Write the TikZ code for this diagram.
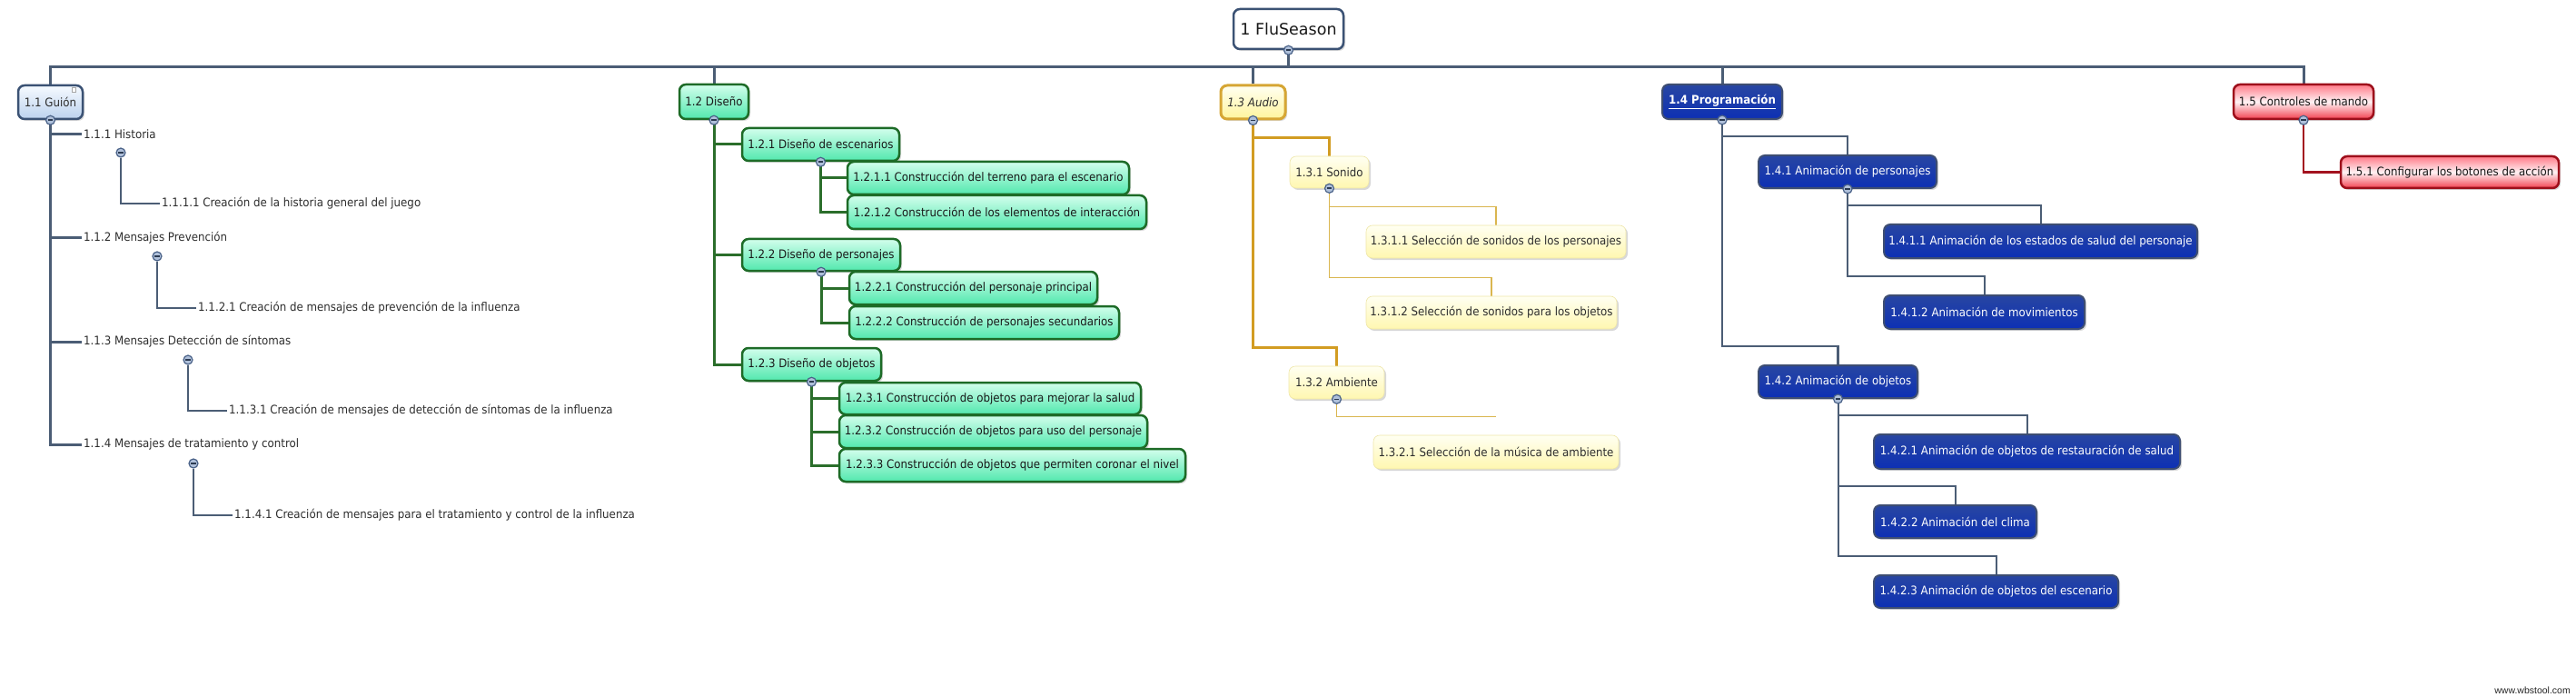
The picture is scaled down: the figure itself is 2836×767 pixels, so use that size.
\documentclass[tikz,border=0pt]{standalone}
\usepackage{fontspec}
\setmainfont{DejaVu Sans}
\newfontfamily\fRoot{DejaVu Sans}
\newfontfamily\fT[FakeStretch=0.91]{DejaVu Sans}
\newfontfamily\fWm{Liberation Sans}
\usetikzlibrary{shadows,calc}
\pgfdeclarelayer{back}
\pgfdeclarelayer{bg}
\pgfsetlayers{back,bg,main}
\definecolor{slateC}{HTML}{4B5D75}
\definecolor{boxSlate}{HTML}{3B5274}
\definecolor{greenL}{HTML}{2B6E2B}
\definecolor{greenB}{HTML}{1D6B27}
\definecolor{greenTop}{HTML}{D2FEEC}
\definecolor{greenBot}{HTML}{52E8AE}
\definecolor{goldL}{HTML}{D29C22}
\definecolor{goldS}{HTML}{DAB650}
\definecolor{goldB}{HTML}{D6A634}
\definecolor{yelTop}{HTML}{FFFFF2}
\definecolor{yelBot}{HTML}{FFF49C}
\definecolor{yelBotB}{HTML}{FFF7B0}
\definecolor{yelEdge}{HTML}{EEE6A8}
\definecolor{blueB}{HTML}{3E4E72}
\definecolor{blueTop}{HTML}{2846A2}
\definecolor{blueBot}{HTML}{0D30B4}
\definecolor{redL}{HTML}{A3121F}
\definecolor{redB}{HTML}{9E0F1B}
\definecolor{redTop}{HTML}{FF7A88}
\definecolor{redMid}{HTML}{FFF2F4}
\definecolor{redBot}{HTML}{F2404F}
\definecolor{guTop}{HTML}{F6FAFF}
\definecolor{guBot}{HTML}{BCD2EE}
\definecolor{txt}{HTML}{2E2E2E}
\definecolor{collFill}{HTML}{AFC0DA}
\definecolor{collDraw}{HTML}{4A6288}
\tikzset{
 tfont/.style={font=\fT\fontsize{13}{16}\selectfont},
 boxbase/.style={rounded corners=7pt, inner xsep=0pt, inner ysep=0pt, align=center, tfont,
   drop shadow={shadow xshift=2pt, shadow yshift=-2pt, opacity=0.3}},
 rootbox/.style={boxbase, draw=boxSlate, line width=2.5pt, fill=white,
   font=\fRoot\fontsize{17.5}{20}\selectfont, text=black!90},
 guibox/.style={boxbase, draw=boxSlate, line width=2.5pt, top color=guTop, bottom color=guBot, text=txt},
 grbox/.style={boxbase, draw=greenB, line width=2.5pt, top color=greenTop, bottom color=greenBot, text=black!90},
 yebox/.style={boxbase, draw=goldB, line width=3pt, top color=yelTop, bottom color=yelBot, text=txt},
 yesub/.style={boxbase, draw=yelEdge, line width=0.6pt, top color=yelTop, bottom color=yelBotB, text=txt},
 blbox/.style={boxbase, draw=blueB, line width=2pt, top color=blueTop, bottom color=blueBot, text=white},
 rebox/.style={boxbase, draw=redB, line width=2.5pt, top color=redTop, bottom color=redBot, middle color=redMid, text=black!90},
 plain/.style={inner xsep=2pt, inner ysep=1pt, anchor=west, tfont, text=txt},
 coll/.style={circle, minimum size=10pt, inner sep=0pt, draw=collDraw, line width=1.2pt, fill=collFill,
   path picture={\draw[line width=1.6pt, collDraw!60!black]
     ([xshift=-2.8pt]path picture bounding box.center) -- ([xshift=2.8pt]path picture bounding box.center);}},
 lslate/.style={draw=slateC, line width=3pt},
 lslatem/.style={draw=slateC, line width=2.5pt},
 lslates/.style={draw=slateC, line width=2pt},
 lslatet/.style={draw=slateC, line width=1.5pt},
 lgreen/.style={draw=greenL, line width=3pt},
 lgold/.style={draw=goldL, line width=3pt},
 lgolds/.style={draw=goldS, line width=1.5pt},
 lred/.style={draw=redL, line width=2.5pt},
}
\newcommand\bx[7]{%
  \pgfmathsetmacro\bxw{#5-#3}\pgfmathsetmacro\bxh{#6-#4}%
  \pgfmathsetmacro\bxx{(#3+#5)/2}\pgfmathsetmacro\bxy{(#4+#6)/2}%
  \node[#2, minimum width=\bxw pt, minimum height=\bxh pt] (#1) at (\bxx,\bxy) {#7};}
\begin{document}
\begin{tikzpicture}[x=1pt,y=-1pt]
\useasboundingbox (0,0) rectangle (2836,767);
\begin{pgfonlayer}{back}
\fill[white] (0,0) rectangle (2836,767);
\end{pgfonlayer}
% root and level 1
\bx{n1}{rootbox}{1358}{10}{1479}{54}{1 FluSeason}
\bx{n11}{guibox}{20}{94}{91}{131}{1.1 Guión}
\bx{n12}{grbox}{748}{93}{824}{131}{1.2 Diseño}
\bx{n13}{yebox}{1344}{94}{1415}{131}{\itshape 1.3 Audio}
\bx{n14}{blbox}{1830}{93}{1962}{131}{\bfseries\underline{1.4 Programación}}
\bx{n15}{rebox}{2459}{93}{2613}{131}{1.5 Controles de mando}
\node[draw=gray!70, fill=white, line width=0.5pt, minimum width=4pt, minimum height=5pt, inner sep=0pt] (icon) at (81,98.5) {};
% 1.1 children
\node[plain] (n111) at (90,148) {1.1.1 Historia};
\node[plain] (n1111) at (176,224) {1.1.1.1 Creación de la historia general del juego};
\node[plain] (n112) at (90,262) {1.1.2 Mensajes Prevención};
\node[plain] (n1121) at (216,339) {1.1.2.1 Creación de mensajes de prevención de la influenza};
\node[plain] (n113) at (90,376) {1.1.3 Mensajes Detección de síntomas};
\node[plain] (n1131) at (250,452) {1.1.3.1 Creación de mensajes de detección de síntomas de la influenza};
\node[plain] (n114) at (90,489) {1.1.4 Mensajes de tratamiento y control};
\node[plain] (n1141) at (256,567) {1.1.4.1 Creación de mensajes para el tratamiento y control de la influenza};
% 1.2
\bx{n121}{grbox}{817}{141}{990}{177}{1.2.1 Diseño de escenarios}
\bx{n1211}{grbox}{933}{178}{1243}{214}{1.2.1.1 Construcción del terreno para el escenario}
\bx{n1212}{grbox}{933}{215}{1262}{252}{1.2.1.2 Construcción de los elementos de interacción}
\bx{n122}{grbox}{817}{263}{991}{298}{1.2.2 Diseño de personajes}
\bx{n1221}{grbox}{935}{299}{1208}{335}{1.2.2.1 Construcción del personaje principal}
\bx{n1222}{grbox}{935}{337}{1232}{373}{1.2.2.2 Construcción de personajes secundarios}
\bx{n123}{grbox}{817}{383}{970}{419}{1.2.3 Diseño de objetos}
\bx{n1231}{grbox}{924}{421}{1256}{456}{1.2.3.1 Construcción de objetos para mejorar la salud}
\bx{n1232}{grbox}{924}{457}{1263}{493}{1.2.3.2 Construcción de objetos para uso del personaje}
\bx{n1233}{grbox}{924}{494}{1305}{530}{1.2.3.3 Construcción de objetos que permiten coronar el nivel}
% 1.3
\bx{n131}{yesub}{1420}{172}{1507}{207}{1.3.1 Sonido}
\bx{n1311}{yesub}{1504}{248}{1790}{284}{1.3.1.1 Selección de sonidos de los personajes}
\bx{n1312}{yesub}{1504}{326}{1780}{362}{1.3.1.2 Selección de sonidos para los objetos}
\bx{n132}{yesub}{1419}{403}{1524}{439}{1.3.2 Ambiente}
\bx{n1321}{yesub}{1512}{479}{1782}{516}{1.3.2.1 Selección de la música de ambiente}
% 1.4
\bx{n141}{blbox}{1936}{171}{2132}{207}{1.4.1 Animación de personajes}
\bx{n1411}{blbox}{2074}{247}{2419}{284}{1.4.1.1 Animación de los estados de salud del personaje}
\bx{n1412}{blbox}{2074}{325}{2295}{362}{1.4.1.2 Animación de movimientos}
\bx{n142}{blbox}{1936}{402}{2111}{438}{1.4.2 Animación de objetos}
\bx{n1421}{blbox}{2063}{478}{2400}{516}{1.4.2.1 Animación de objetos de restauración de salud}
\bx{n1422}{blbox}{2063}{556}{2242}{592}{1.4.2.2 Animación del clima}
\bx{n1423}{blbox}{2063}{633}{2332}{669}{1.4.2.3 Animación de objetos del escenario}
% 1.5
\bx{n151}{rebox}{2577}{172}{2817}{207}{1.5.1 Configurar los botones de acción}
% watermark
\node[font=\fWm\fontsize{10.5}{12}\selectfont, text=black!85, anchor=east, inner sep=0pt] (wm) at (2830,760) {www.wbstool.com};
% collapse markers
\foreach \n in {n1,n11,n12,n121,n122,n123,n13,n131,n132,n14,n141,n142,n15}
  \node[coll] (c\n) at (\n.south) {};
\node[coll] (cn111) at (133,168) {};
\node[coll] (cn112) at (173,282) {};
\node[coll] (cn113) at (207,396) {};
\node[coll] (cn114) at (213,510) {};
% connectors
\begin{pgfonlayer}{bg}
\coordinate (bus) at ([yshift=19pt]n11.north);
\draw[lslate] (n11.north) -- (bus) -| (n15.north);
\draw[lslate] (n1.south) -- (n1.south |- bus);
\draw[lslate] (n12.north) -- (n12.north |- bus);
\draw[lslate] (n13.north) -- (n13.north |- bus);
\draw[lslate] (n14.north) -- (n14.north |- bus);
% 1.1
\foreach \c in {n111,n112,n113,n114}
  \draw[lslate] (n11.south) |- (\c.west);
\draw[lslatet] (cn111) |- (n1111.west);
\draw[lslatet] (cn112) |- (n1121.west);
\draw[lslatet] (cn113) |- (n1131.west);
\draw[lslatet] (cn114) |- (n1141.west);
% 1.2
\foreach \c in {n121,n122,n123}
  \draw[lgreen] (n12.south) |- (\c.west);
\foreach \c in {n1211,n1212}
  \draw[lgreen] (n121.south) |- (\c.west);
\foreach \c in {n1221,n1222}
  \draw[lgreen] (n122.south) |- (\c.west);
\foreach \c in {n1231,n1232,n1233}
  \draw[lgreen] (n123.south) |- (\c.west);
% 1.3
\foreach \c in {n131,n132}
  \draw[lgold] (n13.south) |- ([yshift=20pt]\c.north) -- (\c.north);
\foreach \c in {n1311,n1312}
  \draw[lgolds] (n131.south) |- ([yshift=20pt]\c.north) -- (\c.north);
\draw[lgolds] (n132.south) |- ([yshift=20pt]n1321.north);
% 1.4
\foreach \c in {n141,n142}
  \draw[lslatem] (n14.south) |- ([yshift=20pt]\c.north) -- (\c.north);
\foreach \c in {n1411,n1412}
  \draw[lslates] (n141.south) |- ([yshift=20pt]\c.north) -- (\c.north);
\foreach \c in {n1421,n1422,n1423}
  \draw[lslates] (n142.south) |- ([yshift=20pt]\c.north) -- (\c.north);
% 1.5
\draw[lred] (n15.south) |- (n151.west);
\end{pgfonlayer}
\end{tikzpicture}
\end{document}
